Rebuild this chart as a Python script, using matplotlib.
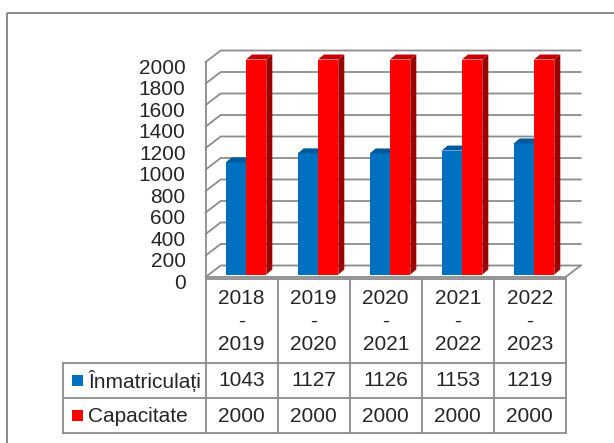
import numpy as np
import matplotlib
matplotlib.use('Agg')
import matplotlib.pyplot as plt
import matplotlib.transforms as mtransforms
from matplotlib.patches import Polygon, Rectangle

# ── Data ───────────────────────────────────────────────────────────────────────
periods = ['2018\n-\n2019', '2019\n-\n2020', '2020\n-\n2021', '2021\n-\n2022', '2022\n-\n2023']
enrolled = [1043, 1127, 1126, 1153, 1219]
capacity = [2000, 2000, 2000, 2000, 2000]
series_names = ['Înmatriculați', 'Capacitate']
y_ticks = list(range(0, 2001, 200))

# ── Style ──────────────────────────────────────────────────────────────────────
plt.rcParams['font.family'] = ['Liberation Sans', 'DejaVu Sans']
FS = 15
TXT = '#262626'
GRID = '#8c8c8c'
BLUE, BLUE_TOP = '#0070C0', '#005a9c'
RED, RED_TOP, RED_SIDE = '#FF0000', '#c80000', '#9e0000'

# pixel geometry of the 3D box (front plane)
X0, Y0 = 205.7, 277.0          # front-left corner of the floor
SLOT = 72.0                    # px per category
PLOT_H = 215.0                 # px for 0..2000
W, H = 614, 443

px_x = 1.0 / SLOT
px_y = 2000.0 / PLOT_H
WALL_DX, WALL_DY = 15 * px_x, 11.5 * px_y
BAR_DX, BAR_DY = 6 * px_x, 5 * px_y
BAR_W = 20.3 * px_x
BAR_BASE = 2.5 * px_y
OFFS = [20.0 * px_x, 40.3 * px_x]

fig = plt.figure(figsize=(W / 100, H / 100), dpi=100)

# canvas in pixel coordinates for frame and table
cv = fig.add_axes([0, 0, 1, 1])
cv.set_xlim(0, W)
cv.set_ylim(H, 0)
cv.axis('off')

# chart axes: x = category, y = value
ax = fig.add_axes([X0 / W, (H - Y0) / H, len(periods) * SLOT / W, PLOT_H / H])
ax.set_xlim(0, len(periods))
ax.set_ylim(0, 2000)
for s in ax.spines.values():
    s.set_visible(False)
ax.set_xticks([])
ax.set_yticks(y_ticks)
ax.set_yticklabels([str(t) for t in y_ticks], fontsize=FS, color=TXT)
ax.tick_params(axis='y', length=0, pad=14.5)
shift = mtransforms.ScaledTranslation(0, -3 / 72, fig.dpi_scale_trans)
for lab in ax.get_yticklabels():
    lab.set_transform(lab.get_transform() + shift)
ax.patch.set_visible(False)

n = len(periods)
# walls and gridlines
for v in y_ticks:
    ax.plot([0, WALL_DX, n + WALL_DX], [v, v + WALL_DY, v + WALL_DY],
            color=GRID, lw=1.3, clip_on=False, zorder=1)
ax.plot([0, 0], [0, 2000], color=GRID, lw=1.3, clip_on=False, zorder=1)
ax.plot([0, n], [0, 0], color=GRID, lw=1.3, clip_on=False, zorder=1)
ax.plot([n, n + WALL_DX], [0, WALL_DY], color=GRID, lw=1.3, clip_on=False, zorder=1)


def bar3d(x, h, face, top, side):
    ax.bar(x, h, width=BAR_W, bottom=BAR_BASE, align='edge', color=face,
           clip_on=False, zorder=3, linewidth=0)
    y1 = BAR_BASE + h
    ax.add_patch(Polygon([(x, y1), (x + BAR_W, y1), (x + BAR_W + BAR_DX, y1 + BAR_DY),
                          (x + BAR_DX, y1 + BAR_DY)], closed=True, color=top,
                         clip_on=False, zorder=3, lw=0))
    ax.add_patch(Polygon([(x + BAR_W, BAR_BASE), (x + BAR_W + BAR_DX, BAR_BASE + BAR_DY),
                          (x + BAR_W + BAR_DX, y1 + BAR_DY), (x + BAR_W, y1)], closed=True,
                         color=side, clip_on=False, zorder=3, lw=0))


for i in range(n):
    bar3d(i + OFFS[0], enrolled[i], BLUE, BLUE_TOP, '#004f8a')
    bar3d(i + OFFS[1], capacity[i], RED, RED_TOP, RED_SIDE)

# ── Frame ──────────────────────────────────────────────────────────────────────
cv.add_patch(Rectangle((7, 13), 640, 460, fill=False, ec='#8a8a8a', lw=1.4))

# ── Data table ─────────────────────────────────────────────────────────────────
col_x = [X0 + SLOT * k for k in range(n + 1)]
T_TOP, R1, R2, R3 = 278.5, 363.0, 398.0, 433.0
LEG_X = 63.0
tl = dict(color=GRID, lw=1.3)
cv.plot([col_x[0], col_x[-1]], [T_TOP, T_TOP], **tl)
for yy in (R1, R2, R3):
    cv.plot([LEG_X, col_x[-1]], [yy, yy], **tl)
for k, xx in enumerate(col_x):
    cv.plot([xx, xx], [T_TOP, R3], **tl)
cv.plot([LEG_X, LEG_X], [R1, R3], **tl)

for i in range(n):
    cx = (col_x[i] + col_x[i + 1]) / 2
    cv.text(cx, (T_TOP + R1) / 2 + 0.5, periods[i], ha='center', va='center',
            fontsize=FS, color=TXT, linespacing=1.25)
    cv.text(cx, (R1 + R2) / 2 + 0.5, str(enrolled[i]), ha='center', va='center',
            fontsize=FS, color=TXT)
    cv.text(cx, (R2 + R3) / 2 + 0.5, str(capacity[i]), ha='center', va='center',
            fontsize=FS, color=TXT)

for (ya, yb), name, col in zip([(R1, R2), (R2, R3)], series_names, [BLUE, RED]):
    ym = (ya + yb) / 2
    cv.add_patch(Rectangle((72, ym - 5.8), 11, 11.5, color=col, lw=0))
    cv.text(88, ym + 0.5, name, ha='left', va='center', fontsize=FS, color=TXT)

fig.savefig('out.png', dpi=100)
